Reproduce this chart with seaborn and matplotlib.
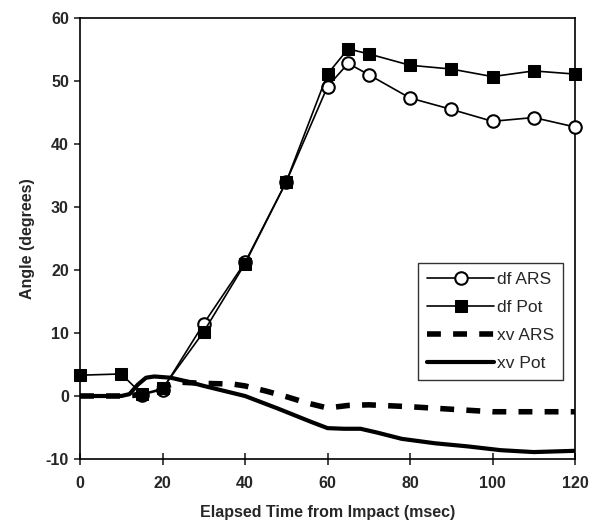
import matplotlib
matplotlib.use('Agg')
import matplotlib.pyplot as plt
import seaborn as sns

# df angles (markers)
df_ars_t = [15, 20, 30, 40, 50, 60, 65, 70, 80, 90, 100, 110, 120]
df_ars = [0.2, 1.0, 11.5, 21.2, 34.0, 49.1, 52.8, 51.0, 47.3, 45.5, 43.6, 44.2, 42.7]

df_pot_t = [0, 10, 15, 20, 30, 40, 50, 60, 65, 70, 80, 90, 100, 110, 120]
df_pot = [3.3, 3.5, 0.3, 1.2, 10.2, 21.0, 34.0, 51.1, 55.1, 54.3, 52.5, 51.9, 50.7, 51.6, 51.1]

# xv angles (continuous traces)
xv_ars_t = [0, 10, 13, 16, 20, 24, 30, 37, 40, 45, 50, 55, 60, 65, 70, 80, 90, 100, 110, 120]
xv_ars = [0, 0, 0.1, 0.6, 1.4, 2.2, 2.0, 1.9, 1.6, 0.8, -0.1, -1.1, -1.9, -1.5, -1.4,
          -1.7, -2.1, -2.5, -2.5, -2.5]

xv_pot_t = [0, 10, 12, 14, 16, 18, 22, 26, 30, 35, 40, 48, 56, 60, 64, 68, 72, 78, 86,
            94, 102, 110, 120]
xv_pot = [0, 0, 0.3, 1.8, 2.9, 3.1, 2.9, 2.3, 1.6, 0.8, 0, -2.0, -4.1, -5.1, -5.2, -5.2,
          -5.8, -6.8, -7.5, -8.0, -8.6, -8.9, -8.7]


def main():
    sns.set_style('ticks')
    plt.rcParams['font.family'] = ['Liberation Sans', 'DejaVu Sans']
    plt.rcParams['axes.unicode_minus'] = False

    fig = plt.figure(figsize=(5.9, 5.32), dpi=100)
    ax = fig.add_axes([80 / 590, 1 - 459 / 532, 495 / 590, 441 / 532])

    sns.lineplot(x=df_ars_t, y=df_ars, ax=ax, color='black', linewidth=1.2,
                 marker='o', markersize=9, markerfacecolor='white',
                 markeredgecolor='black', markeredgewidth=1.5, label='df ARS',
                 clip_on=False, zorder=3)
    sns.lineplot(x=df_pot_t, y=df_pot, ax=ax, color='black', linewidth=1.2,
                 marker='s', markersize=8, markerfacecolor='black',
                 markeredgecolor='black', label='df Pot', clip_on=False, zorder=3)
    sns.lineplot(x=xv_ars_t, y=xv_ars, ax=ax, color='black', linewidth=4,
                 dashes=(2.5, 2.2), label='xv ARS')
    sns.lineplot(x=xv_pot_t, y=xv_pot, ax=ax, color='black', linewidth=3,
                 label='xv Pot')

    ax.set_xlim(0, 120)
    ax.set_ylim(-10, 60)
    ax.set_xticks(range(0, 121, 20))
    ax.set_yticks(range(-10, 61, 10))
    for s in ax.spines.values():
        s.set_visible(True)
        s.set_linewidth(1.2)
        s.set_color('black')
    ax.tick_params(axis='x', direction='inout', length=8, width=1.2, labelsize=11.5, pad=8)
    ax.tick_params(axis='y', direction='out', length=4, width=1.2, labelsize=11.5, pad=4)
    for lab in ax.get_xticklabels() + ax.get_yticklabels():
        lab.set_fontweight('bold')

    ax.set_xlabel('Elapsed Time from Impact (msec)', fontsize=11.5, fontweight='bold', labelpad=10)
    ax.set_ylabel('Angle (degrees)', fontsize=11.5, fontweight='bold', labelpad=8)

    leg = ax.legend(loc='upper left', bbox_to_anchor=(338 / 495, (459 - 263) / 441),
                    frameon=True, fancybox=False, edgecolor='black', fontsize=12.5,
                    handlelength=3.9, handletextpad=0.15, labelspacing=0.75,
                    borderpad=0.5, borderaxespad=0)
    leg.get_frame().set_linewidth(1.0)

    fig.savefig('out.png', dpi=100)


if __name__ == '__main__':
    main()
